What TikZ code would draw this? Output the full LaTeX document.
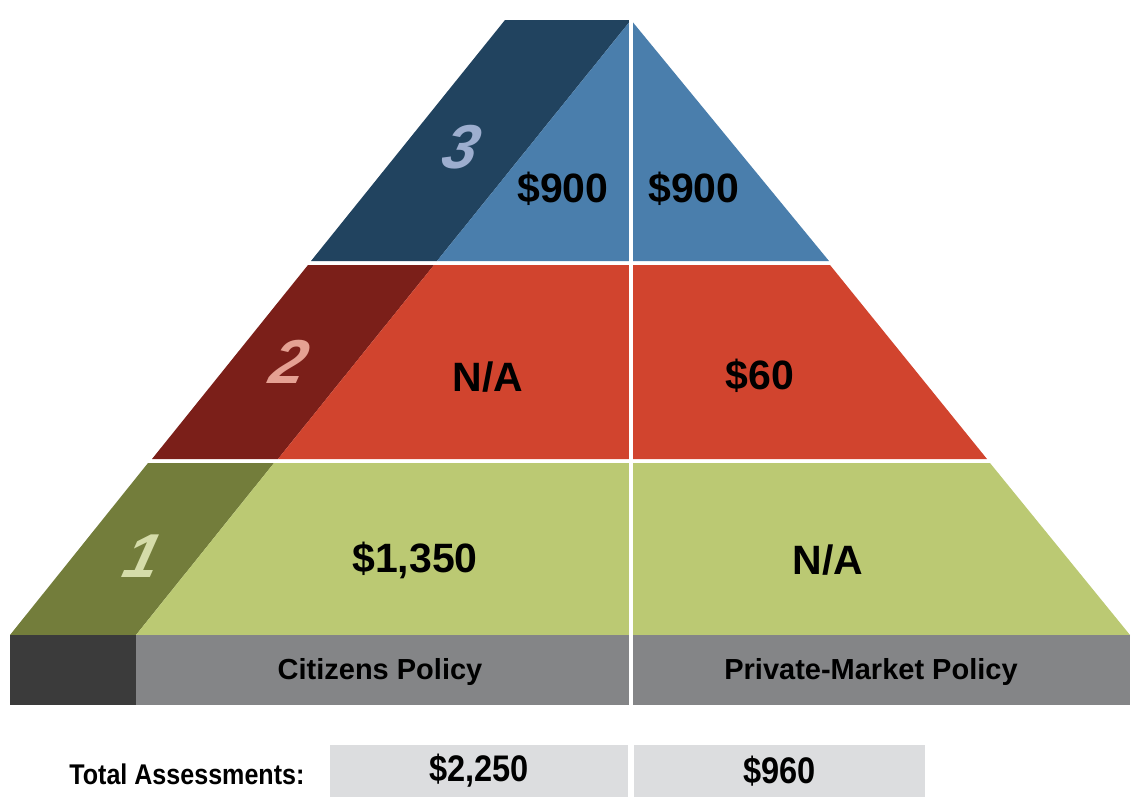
\documentclass[tikz,border=0pt]{standalone}
\usepackage{fontspec}
\setmainfont{Liberation Sans}
\newfontfamily\narrowfont{Liberation Sans}[FakeStretch=0.88]
\usetikzlibrary{calc}

\definecolor{blueDark}{HTML}{21435F}
\definecolor{blueLight}{HTML}{4A7EAC}
\definecolor{redDark}{HTML}{7B1F19}
\definecolor{redLight}{HTML}{D1442E}
\definecolor{greenDark}{HTML}{737D3B}
\definecolor{greenLight}{HTML}{BBC973}
\definecolor{baseDark}{HTML}{3B3B3B}
\definecolor{baseGray}{HTML}{848587}
\definecolor{boxGray}{HTML}{DCDDDF}
\definecolor{numThree}{HTML}{9DAECF}
\definecolor{numTwo}{HTML}{E5A193}
\definecolor{numOne}{HTML}{D5DCA9}

\tikzset{
  val/.style={font=\fontsize{41}{48}\selectfont\bfseries, text=black},
  tiernum/.style={font=\fontsize{62}{70}\selectfont\bfseries\itshape, xslant=0.25},
  lbl/.style={font=\fontsize{29}{34}\selectfont\bfseries, text=black},
  totlbl/.style={font=\narrowfont\fontsize{28.5}{32}\selectfont\bfseries, text=black},
  totbox/.style={fill=boxGray, minimum width=#1, minimum height=52pt, inner sep=0pt,
    font=\narrowfont\fontsize{37}{42}\selectfont\bfseries, text=black}
}

\begin{document}
\begin{tikzpicture}[x=1pt,y=-1pt]
\useasboundingbox (0,0) rectangle (1144,806);
% tier 3
\fill[blueDark] (505,20) -- (631,20) -- (437,261) -- (311,261) -- cycle;
\fill[blueLight] (631,20) -- (829,261) -- (437,261) -- cycle;
% tier 2
\fill[redDark] (308,265) -- (434,265) -- (278,459) -- (152,459) -- cycle;
\fill[redLight] (434,265) -- (830,265) -- (987,459) -- (278,459) -- cycle;
% tier 1
\fill[greenDark] (148,463) -- (274,463) -- (136,635) -- (10,635) -- cycle;
\fill[greenLight] (274,463) -- (990,463) -- (1130,635) -- (136,635) -- cycle;
% base
\fill[baseDark] (10,635) rectangle (136,705);
\fill[baseGray] (136,635) rectangle (1130,705);
\draw[white, line width=4pt] (631,18) -- (631,705);

\node[tiernum, text=numThree] (n3) at (462,147) {3};
\node[tiernum, text=numTwo] (n2) at (290,362) {2};
\node[tiernum, text=numOne] (n1) at (143,556) {1};

\node[val] (c3) at (563,189) {\$900};
\node[val] (p3) at (694,189) {\$900};
\node[val] (c2) at (488,377) {N/A};
\node[val] (p2) at (760,376) {\$60};
\node[val] (c1) at (415,560) {\$1,350};
\node[val] (p1) at (828,560) {N/A};

\node[lbl] (cit) at (380,672) {Citizens Policy};
\node[lbl] (pvt) at (871,672) {Private-Market Policy};

% totals
\node[totlbl, anchor=east] (tot) at (308,774) {Total Assessments:};
\node[totbox=298pt] (tc) at (479,771) {\$2,250};
\node[totbox=291pt] (tp) at (779.5,771) {\$960};
\end{tikzpicture}
\end{document}
